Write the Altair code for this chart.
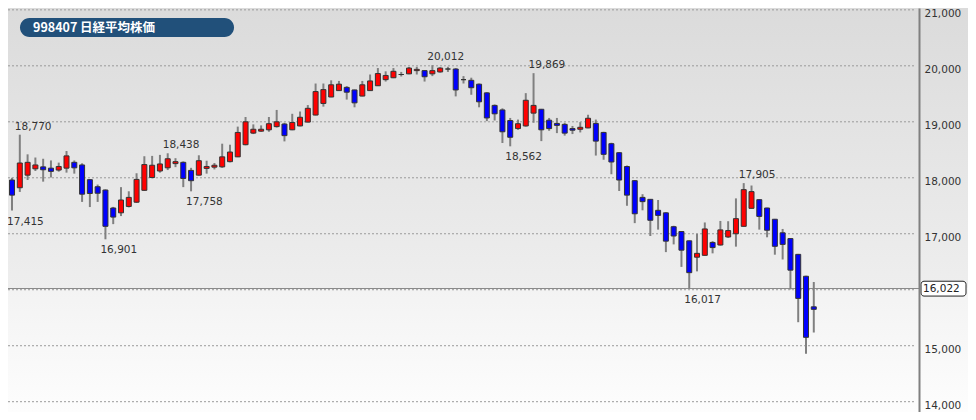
import altair as alt
import pandas as pd

# ---- data ----
idx = list(range(-1, 103))
opens = [17960, 17822, 18047, 18160, 18195, 18172, 18138, 18172, 18276, 18229,
         17966, 17840, 17781, 17460, 17374, 17488, 17564, 17776, 18005, 18121,
         18178, 18253, 18276, 18132, 18047, 18167, 18190, 18195, 18288, 18374,
         18591, 18798, 18833, 18857, 18914, 18960, 18857, 18926, 18995, 19121,
         19328, 19443, 19557, 19615, 19569, 19460, 19557, 19644, 19753, 19787,
         19845, 19857, 19914, 19914, 19857, 19891, 19943, 19943, 19753, 19741,
         19672, 19517, 19293, 19212, 19023, 18879, 18926, 19155, 19224, 19029,
         18971, 18954, 18879, 18867, 18891, 18971, 18810, 18609, 18448, 18201,
         17948, 17650, 17615, 17419, 17374, 17126, 17040, 16874, 16581, 16615,
         16845, 16799, 16943, 17000, 17133, 17454, 17609, 17460, 17259, 17017,
         16914, 16632, 16241, 15695]
highs = [18000, 18770, 18419, 18362, 18340, 18310, 18271, 18478, 18310, 18259,
         17977, 17879, 17793, 17480, 17833, 17759, 18081, 18385, 18391, 18409,
         18438, 18350, 18293, 18178, 18402, 18305, 18264, 18609, 18591, 18914,
         19086, 18954, 18936, 19086, 19212, 18983, 19143, 19184, 19299, 19684,
         19684, 19741, 19730, 19638, 19575, 19730, 19845, 19960, 19902, 19960,
         19891, 19980, 19983, 19920, 20012, 19975, 19983, 19960, 19816, 19788,
         19684, 19529, 19310, 19241, 19069, 19040, 19512, 19869, 19230, 19069,
         19069, 18983, 18926, 18994, 19126, 19040, 18822, 18626, 18460, 18219,
         17960, 17707, 17620, 17603, 17385, 17143, 17045, 16880, 17000, 17202,
         16868, 17229, 17224, 17632, 17905, 17862, 17615, 17465, 17265, 17086,
         16920, 16640, 16250, 16138]
lows = [17415, 17747, 17960, 18121, 17931, 18005, 18109, 18092, 18074, 17569,
        17477, 17569, 16901, 17172, 17316, 17470, 17550, 17764, 17990, 18092,
        18138, 18190, 17833, 17758, 18040, 18074, 18150, 18178, 18276, 18370,
        18580, 18781, 18822, 18822, 18897, 18650, 18850, 18920, 18990, 19115,
        19271, 19440, 19550, 19397, 19259, 19455, 19550, 19640, 19719, 19780,
        19810, 19850, 19845, 19719, 19816, 19879, 19891, 19454, 19684, 19483,
        19259, 19012, 19023, 18621, 18562, 18857, 18914, 18983, 18655, 18840,
        18798, 18753, 18781, 18810, 18885, 18397, 18322, 18063, 17764, 17500,
        17190, 17419, 16960, 17074, 16672, 16810, 16408, 16017, 16328, 16610,
        16650, 16790, 16926, 16770, 17130, 17450, 17074, 16937, 16626, 16540,
        16006, 15420, 14856, 15236]
closes = [17690, 18264, 18276, 18229, 18143, 18115, 18202, 18391, 18178, 17707,
          17719, 17724, 17133, 17298, 17603, 17650, 17971, 18236, 18224, 18247,
          18340, 18288, 17988, 17948, 18305, 18202, 18224, 18374, 18460, 18810,
          19000, 18867, 18867, 18966, 19000, 18753, 18988, 19081, 19241, 19540,
          19575, 19661, 19672, 19529, 19339, 19661, 19730, 19862, 19828, 19902,
          19845, 19960, 19937, 19805, 19914, 19960, 19943, 19569, 19753, 19609,
          19357, 19069, 19143, 18822, 18724, 18966, 19385, 19293, 18857, 18879,
          18936, 18798, 18850, 18902, 19063, 18655, 18419, 18282, 17960, 17690,
          17357, 17574, 17241, 17328, 16868, 16960, 16707, 16305, 16650, 17086,
          16753, 17069, 17057, 17270, 17788, 17753, 17310, 17063, 16776, 16810,
          16350, 15845, 15150, 15650]

ann_idx = [-1, 0, 11, 19, 22, 53, 63, 66, 86, 93]
ann_val = [17415, 18770, 16901, 18438, 17758, 20012, 18562, 19869, 16017, 17905]
ann_kind = ["low", "high", "low", "high", "low", "high", "low", "high", "low", "high"]

axis_values = [14000, 15000, 17000, 18000, 19000, 20000, 21000]
grid_values = [14000, 15000, 16000, 17000, 18000, 19000, 20000, 21000]
current_price = 16022
title_text = "998407 日経平均株価"

# ---- layout ----
W, H = 911, 404
Y_DOM = [13816, 21033]
X_DOM = [-0.875, 114.875]
FONT = "DejaVu Sans"

def dirn(o, c):
    return "up" if c > o else ("down" if c < o else "flat")

candles = pd.DataFrame({"i": idx, "open": opens, "high": highs, "low": lows, "close": closes})
candles["dir"] = [dirn(o, c) for o, c in zip(opens, closes)]

ann = pd.DataFrame({"i": ann_idx, "v": ann_val, "kind": ann_kind})
ann["label"] = [f"{v:,}" for v in ann_val]

xs = alt.Scale(domain=X_DOM, nice=False, zero=False)
ys = alt.Scale(domain=Y_DOM, nice=False, zero=False)
YAX = alt.Axis(orient="right", values=axis_values, title=None,
               labelExpr="format(datum.value, ',')",
               ticks=False, grid=False, labelFont=FONT, labelFontSize=10.5,
               labelColor="#333333", labelPadding=5, labelOffset=4,
               domainColor="#808080", domainWidth=2, zindex=1)

one = pd.DataFrame({"k": [0]})

grad_top = alt.LinearGradient(gradient="linear", x1=0, y1=0, x2=0, y2=1,
                              stops=[alt.GradientStop(color="#dbdbdb", offset=0),
                                     alt.GradientStop(color="#eeeeee", offset=1)])
grad_bot = alt.LinearGradient(gradient="linear", x1=0, y1=0, x2=0, y2=1,
                              stops=[alt.GradientStop(color="#f3f3f3", offset=0),
                                     alt.GradientStop(color="#fdfdfd", offset=1)])

bg_top = alt.Chart(one).mark_rect(color=grad_top).encode(
    x=alt.value(0), x2=alt.value(W + 49),
    y=alt.Y(datum=Y_DOM[1], scale=ys, axis=YAX), y2=alt.datum(current_price))
bg_bot = alt.Chart(one).mark_rect(color=grad_bot).encode(
    x=alt.value(0), x2=alt.value(W + 49),
    y=alt.Y(datum=current_price, scale=ys, axis=YAX), y2=alt.datum(Y_DOM[0]))

grid = alt.Chart(pd.DataFrame({"g": grid_values})).mark_rule(
    color="#9a9a9a", strokeDash=[2, 2], strokeWidth=1).encode(
    y=alt.Y("g:Q", scale=ys, axis=YAX),
    x=alt.value(0), x2=alt.value(W - 3))

price_line = alt.Chart(pd.DataFrame({"p": [current_price]})).mark_rule(
    color="#8a8a8a", strokeWidth=1).encode(
    y=alt.Y("p:Q", scale=ys, axis=YAX), x=alt.value(0), x2=alt.value(W))

wicks = alt.Chart(candles).mark_rule(color="#808080", strokeWidth=2, clip=True).encode(
    x=alt.X("i:Q", scale=xs, axis=None),
    y=alt.Y("low:Q", scale=ys, axis=YAX), y2="high:Q")

bodies = alt.Chart(candles).mark_bar(size=5, stroke="#333333", strokeWidth=1, clip=True).encode(
    x=alt.X("i:Q", scale=xs, axis=None),
    y=alt.Y("open:Q", scale=ys, axis=YAX), y2="close:Q",
    color=alt.Color("dir:N", legend=None,
                    scale=alt.Scale(domain=["up", "down", "flat"],
                                    range=["#ff0000", "#0000ff", "#222222"])))

ann_hi = alt.Chart(ann).transform_filter(alt.datum.kind == "high").mark_text(
    align="left", baseline="bottom", dx=-5, dy=-3, font=FONT, fontSize=10.5,
    color="#333333").encode(
    x=alt.X("i:Q", scale=xs, axis=None), y=alt.Y("v:Q", scale=ys, axis=YAX),
    text="label:N")
ann_lo = alt.Chart(ann).transform_filter(alt.datum.kind == "low").mark_text(
    align="left", baseline="top", dx=-5, dy=6, font=FONT, fontSize=10.5,
    color="#333333").encode(
    x=alt.X("i:Q", scale=xs, axis=None), y=alt.Y("v:Q", scale=ys, axis=YAX),
    text="label:N")

badge = alt.Chart(one).mark_rect(color="#21507a", cornerRadius=9.5).encode(
    x=alt.value(12), x2=alt.value(226), y=alt.value(10), y2=alt.value(29))
badge_text = alt.Chart(one).mark_text(
    align="left", baseline="middle", font="Noto Sans CJK JP", fontSize=12.5,
    fontWeight="bold", color="#ffffff").encode(
    x=alt.value(25), y=alt.value(19.5), text=alt.value(title_text))

price_box = alt.Chart(pd.DataFrame({"p": [current_price]})).mark_rect(
    fill="#ffffff", stroke="#222222", strokeWidth=1, cornerRadius=3).encode(
    x=alt.value(W + 2), x2=alt.value(W + 47),
    y=alt.Y("hi:Q", scale=ys, axis=YAX), y2="lo:Q").transform_calculate(
    hi="datum.p + 130", lo="datum.p - 135")
price_text = alt.Chart(pd.DataFrame({"p": [current_price]})).mark_text(
    align="left", baseline="middle", font=FONT, fontSize=10.5, color="#222222").encode(
    x=alt.value(W + 4), y=alt.Y("p:Q", scale=ys, axis=YAX),
    text=alt.Text("p:Q", format=","))

chart = alt.layer(
    bg_top, bg_bot, grid, price_line, wicks, bodies, ann_hi, ann_lo,
    badge, badge_text, price_box, price_text
).properties(
    width=W, height=H,
    autosize=alt.AutoSizeParams(type="none"),
    padding={"left": 0, "top": 0, "right": 49, "bottom": 0},
).configure_view(stroke=None).configure(background="#ffffff")

chart.save("out.html", embed_options={"renderer": "svg", "actions": False})
